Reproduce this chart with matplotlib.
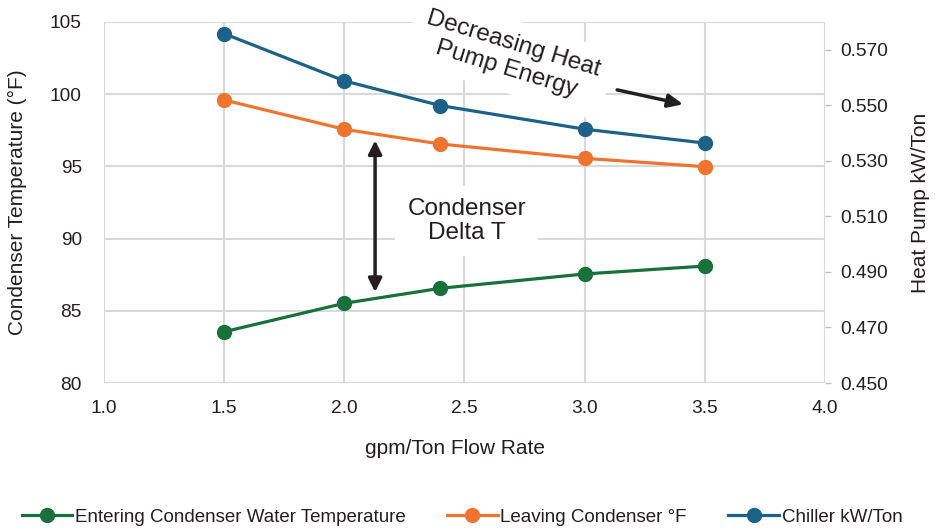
import matplotlib.pyplot as plt
from matplotlib.ticker import FormatStrFormatter

plt.rcParams['font.family'] = ['Liberation Sans', 'DejaVu Sans']

# data
flow_rate = [1.5, 2.0, 2.4, 3.0, 3.5]
entering_temp = [83.55, 85.52, 86.56, 87.55, 88.1]
leaving_temp = [99.6, 97.57, 96.55, 95.56, 94.98]
chiller_kw = [0.5758, 0.5588, 0.5499, 0.5414, 0.5364]

green = "#18703A"
orange = "#EE7430"
blue = "#1C6187"
grid_color = "#D9D9D9"
text_color = "#231F20"

fig = plt.figure(figsize=(9.4, 5.31), dpi=100)
ax = fig.add_axes([104/940, 1-383/531, 721/940, 361/531])
ax2 = ax.twinx()

ax.set_xlim(1.0, 4.0)
ax.set_ylim(80, 105)
ax2.set_ylim(0.45, 0.58)
ax.set_xticks([1.0, 1.5, 2.0, 2.5, 3.0, 3.5, 4.0])
ax.set_yticks([80, 85, 90, 95, 100, 105])
ax2.set_yticks([0.45, 0.47, 0.49, 0.51, 0.53, 0.55, 0.57])
ax.xaxis.set_major_formatter(FormatStrFormatter('%.1f'))
ax2.yaxis.set_major_formatter(FormatStrFormatter('%.3f'))

ax.grid(True, color=grid_color, linewidth=1.5)
ax.set_axisbelow(True)
for a in (ax, ax2):
    for s in a.spines.values():
        s.set_visible(False)

ax.tick_params(axis='x', length=0, pad=12, labelsize=13.8, labelcolor=text_color)
ax.tick_params(axis='y', length=0, pad=16, labelsize=13.8, labelcolor=text_color)
ax2.tick_params(axis='y', length=4, width=1, color="#BFBFBF", pad=7,
                labelsize=13.8, labelcolor=text_color)

l1, = ax.plot(flow_rate, entering_temp, color=green, lw=2.3, marker='o', ms=10,
              label="Entering Condenser Water Temperature", zorder=3)
l2, = ax.plot(flow_rate, leaving_temp, color=orange, lw=2.3, marker='o', ms=10,
              label="Leaving Condenser \u00b0F", zorder=3)
l3, = ax2.plot(flow_rate, chiller_kw, color=blue, lw=2.3, marker='o', ms=10,
               label="Chiller kW/Ton", zorder=3)

ax.set_xlabel("gpm/Ton Flow Rate", fontsize=15, color=text_color)
ax.xaxis.set_label_coords(0.487, -0.155)
ax.set_ylabel("Condenser Temperature (\u00b0F)", fontsize=15, color=text_color)
ax.yaxis.set_label_coords(-0.107, 0.5)
ax2.set_ylabel("Heat Pump kW/Ton", fontsize=15, color=text_color)
ax2.yaxis.set_label_coords(1.119, 0.5)

# annotations
ax.text(2.51, 91.2, "Condenser\nDelta T", fontsize=17.5, color=text_color,
        ha='center', va='center', linespacing=1.1, zorder=1,
        bbox=dict(boxstyle='square,pad=0.5', fc='white', ec='none'))
ax.annotate("", xy=(2.128, 86.3), xytext=(2.128, 96.8),
            arrowprops=dict(arrowstyle='<|-|>,head_length=0.8,head_width=0.4',
                            color="#231F20", lw=2.5, shrinkA=0, shrinkB=0))

ax.text(2.69, 102.6, "Decreasing Heat\nPump Energy", fontsize=17.5, color=text_color,
        ha='center', va='center', rotation=-17, rotation_mode='anchor',
        linespacing=1.22, zorder=1,
        bbox=dict(boxstyle='square,pad=0.5', fc='white', ec='none'))
ax.annotate("", xy=(3.41, 99.3), xytext=(3.135, 100.3),
            arrowprops=dict(arrowstyle='-|>,head_length=0.9,head_width=0.4',
                            color="#231F20", lw=2.5, shrinkA=0, shrinkB=0))

fig.legend(handles=[l1, l2, l3], loc='center', bbox_to_anchor=(462/940, 1-517/531),
           ncol=3, frameon=False, fontsize=13.5, handlelength=2.7,
           handletextpad=0.15, columnspacing=2.2, labelcolor=text_color)

fig.savefig("out.png", dpi=100)
